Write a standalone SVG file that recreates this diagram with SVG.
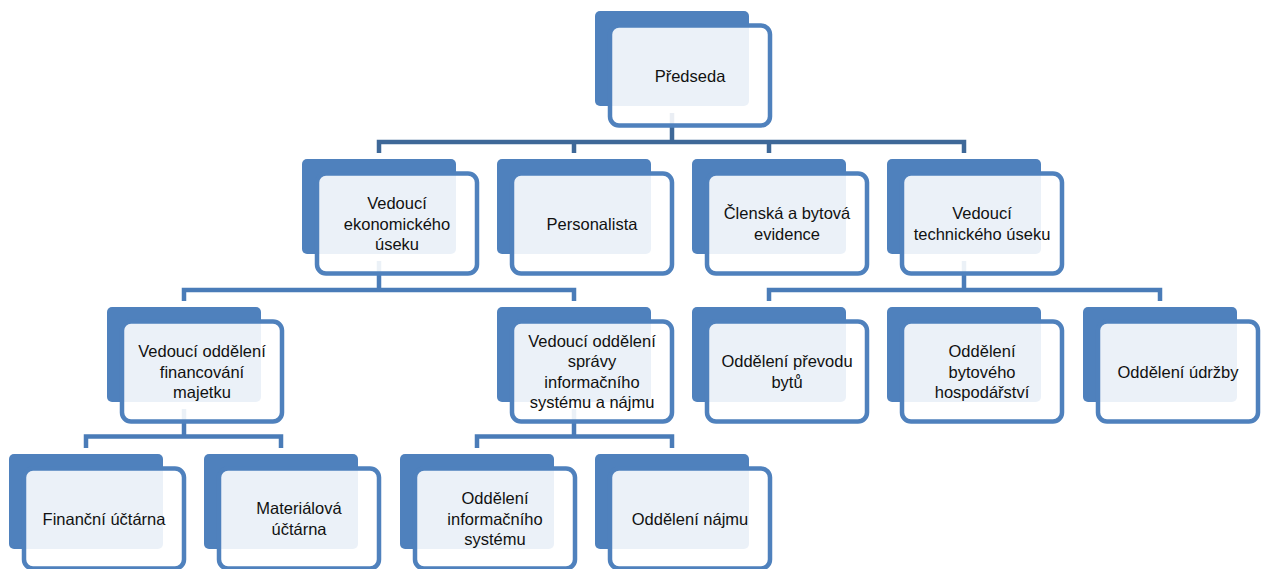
<svg xmlns="http://www.w3.org/2000/svg" width="1261" height="569" viewBox="0 0 1261 569">
<style>
.back{fill:#4F81BD}
.front{fill:#FFFFFF;fill-opacity:0.89;stroke:#4F81BD;stroke-width:4.5}
.t{font-family:"Liberation Sans",Arial,sans-serif;font-size:16.5px;fill:#111111;text-anchor:middle}
.c1{fill:none;stroke:#3E6898;stroke-width:4.5;stroke-linejoin:miter}
.c2{fill:none;stroke:#4A7CB8;stroke-width:4.5;stroke-linejoin:miter}
</style>
<rect width="1261" height="569" fill="#FFFFFF"/>
<g id="connectors">
<path class="c1" d="M672 113V142M379 153V142H964V153M574 142V153M769 142V153"/>
<path class="c2" d="M379 261V290M184 301V290H574V301"/>
<path class="c2" d="M964 261V290M769 301V290H1160V301"/>
<path class="c2" d="M184 409V436.5M86 448V436.5H281V448"/>
<path class="c2" d="M574 409V436.5M477 448V436.5H672V448"/>
</g>
<g id="n-predseda" transform="translate(595,11)"><rect class="back" width="154" height="95" rx="5"/><rect class="front" x="15" y="14.5" width="160" height="100" rx="9"/><text class="t" x="95" y="70.5">Předseda</text></g>
<g id="n-ekonom" transform="translate(302,159)"><rect class="back" width="154" height="95" rx="5"/><rect class="front" x="15" y="14.5" width="160" height="100" rx="9"/><text class="t"><tspan x="95" y="50">Vedoucí</tspan><tspan x="95" y="70.5">ekonomického</tspan><tspan x="95" y="91">úseku</tspan></text></g>
<g id="n-personalista" transform="translate(497,159)"><rect class="back" width="154" height="95" rx="5"/><rect class="front" x="15" y="14.5" width="160" height="100" rx="9"/><text class="t" x="95" y="70.5">Personalista</text></g>
<g id="n-clenska" transform="translate(692,159)"><rect class="back" width="154" height="95" rx="5"/><rect class="front" x="15" y="14.5" width="160" height="100" rx="9"/><text class="t"><tspan x="95" y="60.25">Členská a bytová</tspan><tspan x="95" y="80.75">evidence</tspan></text></g>
<g id="n-technicky" transform="translate(887,159)"><rect class="back" width="154" height="95" rx="5"/><rect class="front" x="15" y="14.5" width="160" height="100" rx="9"/><text class="t"><tspan x="95" y="60.25">Vedoucí</tspan><tspan x="95" y="80.75">technického úseku</tspan></text></g>
<g id="n-financovani" transform="translate(107,307)"><rect class="back" width="154" height="95" rx="5"/><rect class="front" x="15" y="14.5" width="160" height="100" rx="9"/><text class="t"><tspan x="95" y="50">Vedoucí oddělení</tspan><tspan x="95" y="70.5">financování</tspan><tspan x="95" y="91">majetku</tspan></text></g>
<g id="n-spravy" transform="translate(497,307)"><rect class="back" width="154" height="95" rx="5"/><rect class="front" x="15" y="14.5" width="160" height="100" rx="9"/><text class="t"><tspan x="95" y="39.75">Vedoucí oddělení</tspan><tspan x="95" y="60.25">správy</tspan><tspan x="95" y="80.75">informačního</tspan><tspan x="95" y="101.25">systému a nájmu</tspan></text></g>
<g id="n-prevodu" transform="translate(692,307)"><rect class="back" width="154" height="95" rx="5"/><rect class="front" x="15" y="14.5" width="160" height="100" rx="9"/><text class="t"><tspan x="95" y="60.25">Oddělení převodu</tspan><tspan x="95" y="80.75">bytů</tspan></text></g>
<g id="n-hospodarstvi" transform="translate(887,307)"><rect class="back" width="154" height="95" rx="5"/><rect class="front" x="15" y="14.5" width="160" height="100" rx="9"/><text class="t"><tspan x="95" y="50">Oddělení</tspan><tspan x="95" y="70.5">bytového</tspan><tspan x="95" y="91">hospodářství</tspan></text></g>
<g id="n-udrzby" transform="translate(1083,307)"><rect class="back" width="154" height="95" rx="5"/><rect class="front" x="15" y="14.5" width="160" height="100" rx="9"/><text class="t" x="95" y="70.5">Oddělení údržby</text></g>
<g id="n-financni" transform="translate(9,454)"><rect class="back" width="154" height="95" rx="5"/><rect class="front" x="15" y="14.5" width="160" height="100" rx="9"/><text class="t" x="95" y="70.5">Finanční účtárna</text></g>
<g id="n-materialova" transform="translate(204,454)"><rect class="back" width="154" height="95" rx="5"/><rect class="front" x="15" y="14.5" width="160" height="100" rx="9"/><text class="t"><tspan x="95" y="60.25">Materiálová</tspan><tspan x="95" y="80.75">účtárna</tspan></text></g>
<g id="n-informacniho" transform="translate(400,454)"><rect class="back" width="154" height="95" rx="5"/><rect class="front" x="15" y="14.5" width="160" height="100" rx="9"/><text class="t"><tspan x="95" y="50">Oddělení</tspan><tspan x="95" y="70.5">informačního</tspan><tspan x="95" y="91">systému</tspan></text></g>
<g id="n-najmu" transform="translate(595,454)"><rect class="back" width="154" height="95" rx="5"/><rect class="front" x="15" y="14.5" width="160" height="100" rx="9"/><text class="t" x="95" y="70.5">Oddělení nájmu</text></g>
</svg>
